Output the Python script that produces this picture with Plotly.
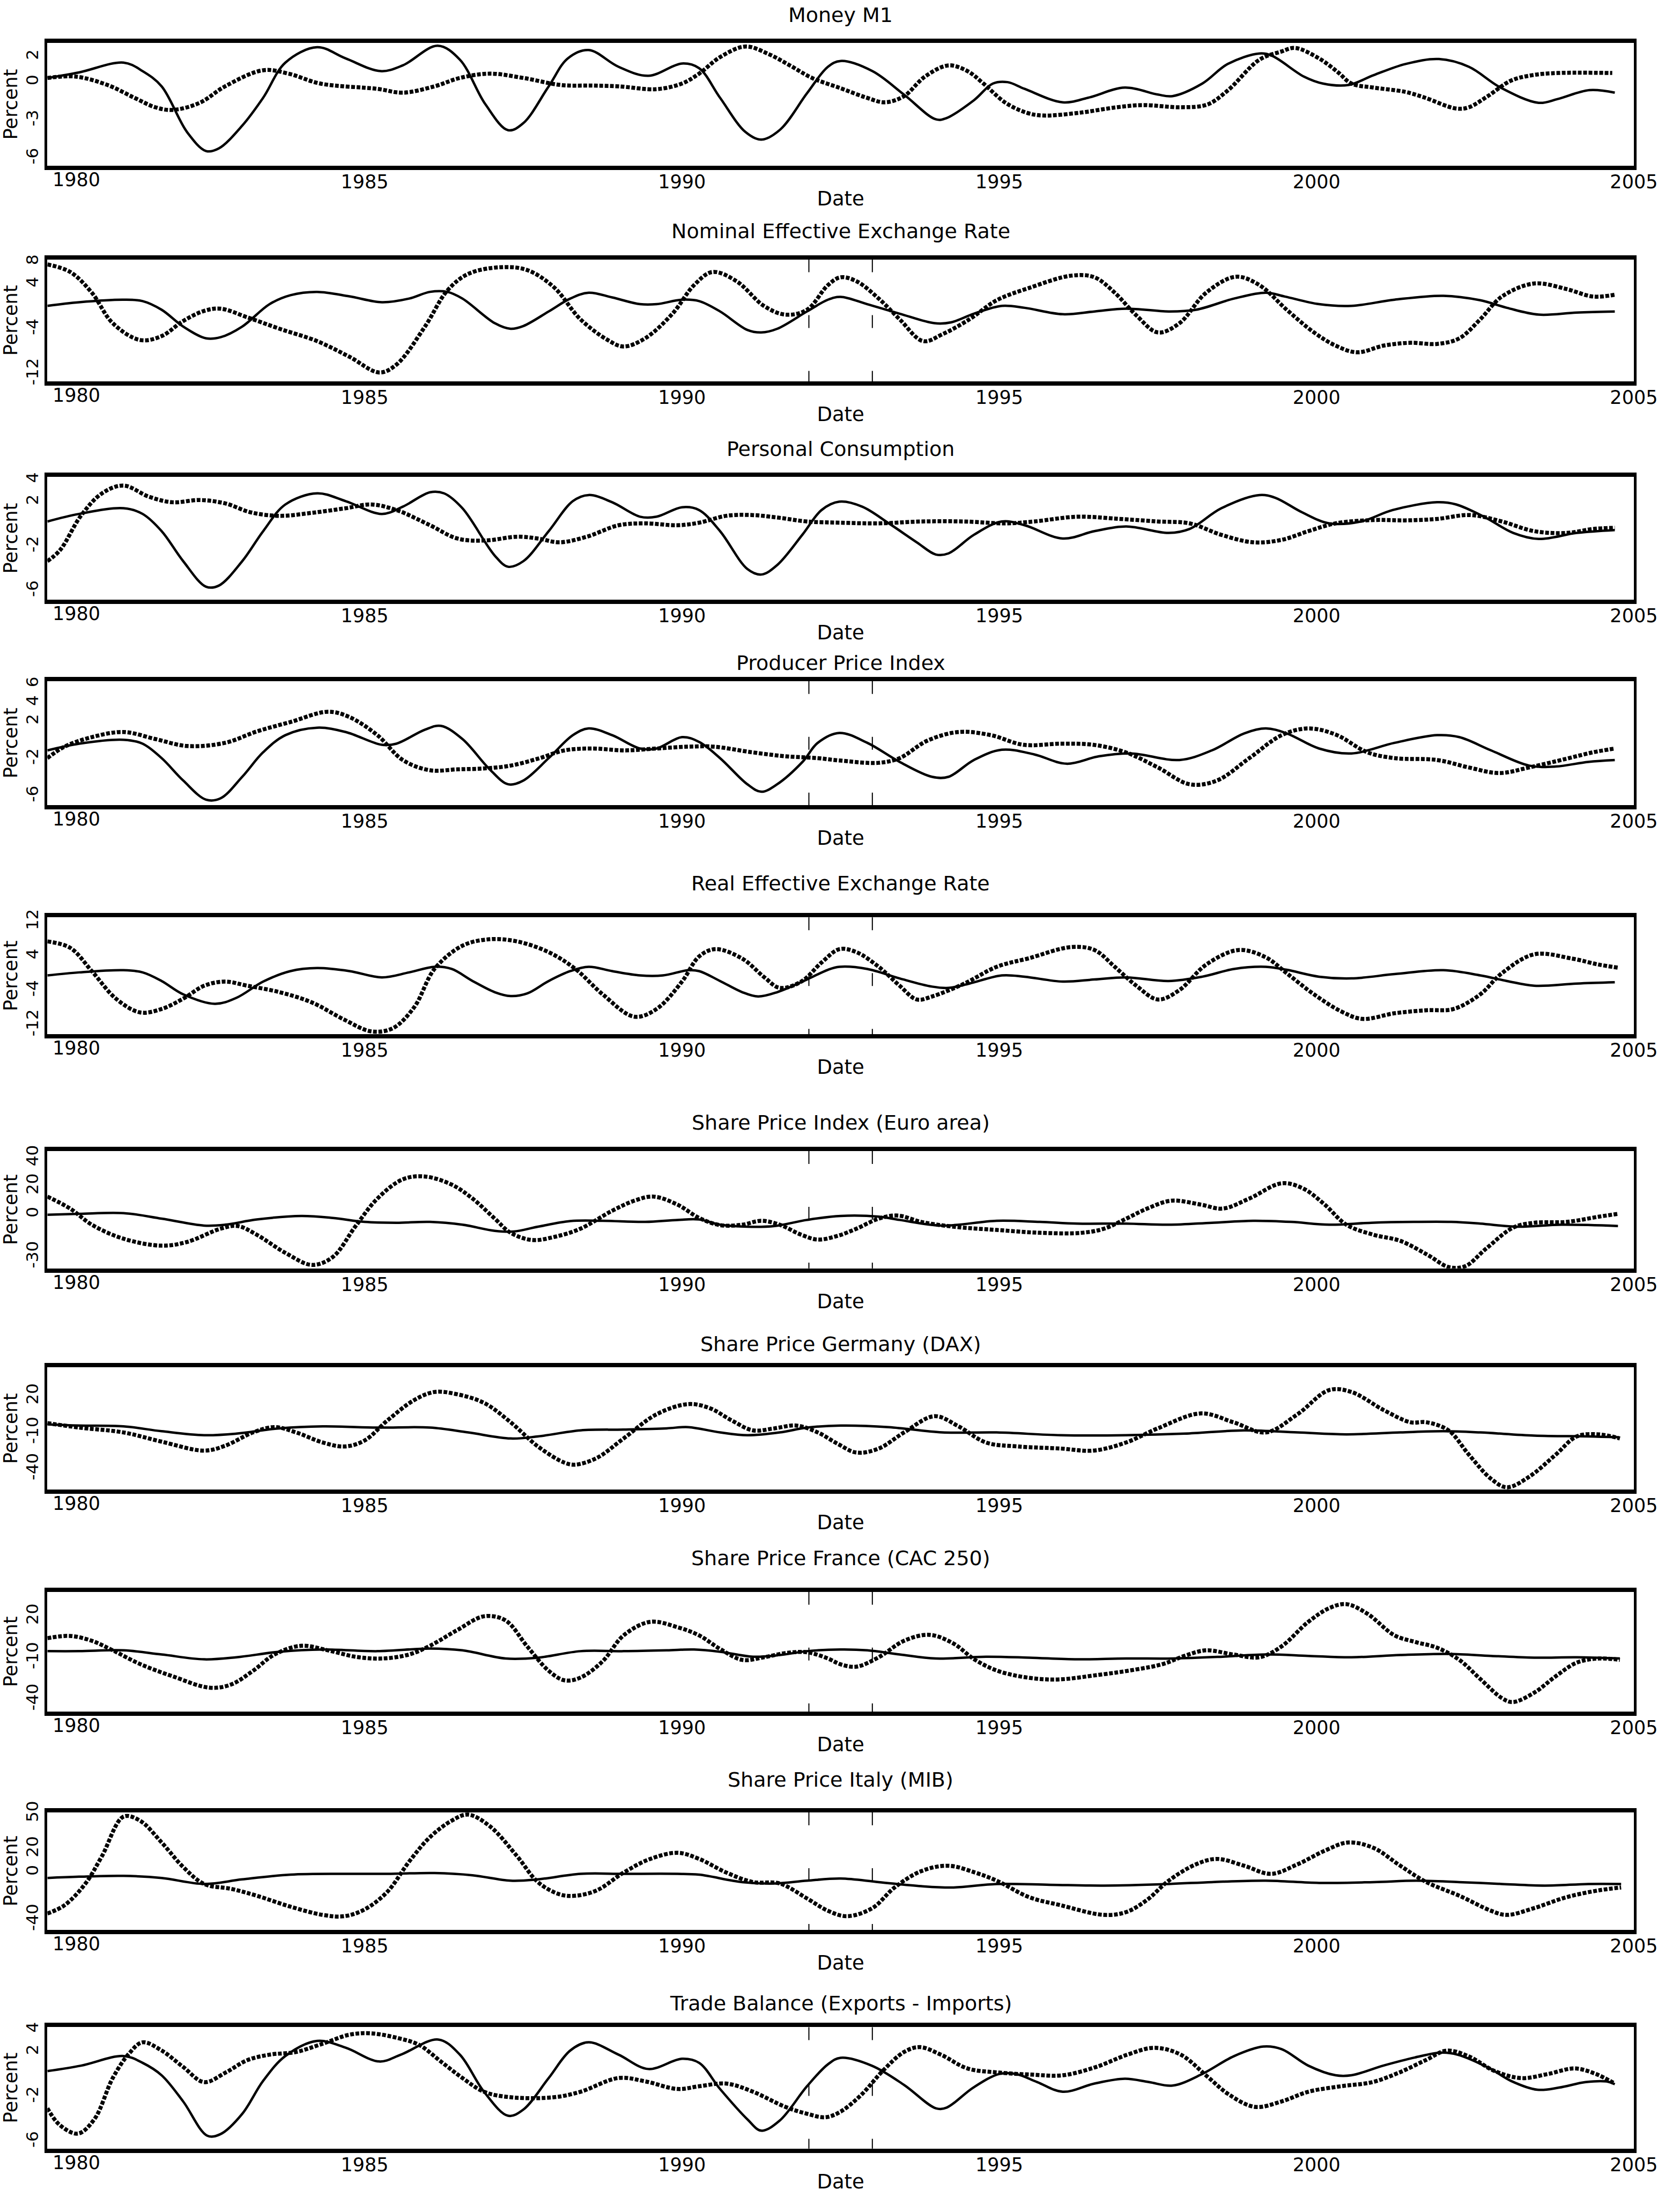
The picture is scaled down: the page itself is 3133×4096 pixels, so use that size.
import plotly.graph_objects as go

# ---------------------------------------------------------------------------
# Cyclical components in percent (decimal years).
# "ref" = reference cycle (solid line), "ser" = series cycle (dotted line)
# ---------------------------------------------------------------------------

money_ref_yr = [1980.0, 1980.5, 1981.2, 1981.5, 1981.8, 1982.2, 1982.5, 1982.7, 1983.07, 1983.4, 1983.75, 1984.25,
                1984.7, 1985.25, 1985.6, 1986.15, 1986.5, 1986.9, 1987.26, 1987.5, 1987.9, 1988.2, 1988.53, 1989.0,
                1989.47, 1990.0, 1990.27, 1990.6, 1991.0, 1991.25, 1991.55, 1991.97, 1992.3, 1992.5, 1993.0, 1993.5,
                1994.0, 1994.17, 1994.6, 1994.9, 1995.13, 1995.4, 1996.0, 1996.4, 1996.98, 1997.5, 1997.73, 1998.2,
                1998.6, 1999.1, 1999.3, 1999.8, 2000.1, 2000.5, 2000.9, 2001.4, 2001.93, 2002.4, 2002.9, 2003.5,
                2003.8, 2004.3, 2004.7]
money_ref = [0.36, 0.8, 1.57, 0.9, -0.3, -3.9, -5.4, -5.2, -3.4, -1.2, 1.57, 2.78,
             1.9, 0.9, 1.35, 2.9, 1.8, -1.7, -3.76, -3.2, -0.3, 1.9, 2.56, 1.24,
             0.53, 1.5, 1.13, -1.2, -3.9, -4.5, -3.7, -0.85, 1.24, 1.7, 0.9, -0.96,
             -2.9, -2.8, -1.4, -0.08, 0.03, -0.5, -1.56, -1.2, -0.4, -0.95, -1.07, -0.08,
             1.46, 2.29, 2.1, 0.47, -0.08, -0.2, 0.58, 1.46, 1.85, 1.24, -0.4, -1.6,
             -1.3, -0.6, -0.8]
money_ser_yr = [1980.0, 1980.44, 1980.95, 1981.37, 1981.7, 1981.97, 1982.4, 1982.8, 1983.4, 1983.8, 1984.3, 1985.2,
                1985.6, 1986.1, 1986.5, 1986.97, 1987.5, 1988.1, 1988.6, 1989.0, 1989.6, 1990.0, 1990.27, 1990.6,
                1991.0, 1991.37, 1991.7, 1992.05, 1992.5, 1992.9, 1993.2, 1993.5, 1993.83, 1994.2, 1994.5, 1994.75,
                1995.1, 1995.43, 1995.68, 1996.27, 1996.85, 1997.27, 1997.86, 1998.28, 1998.6, 1999.1, 1999.45,
                1999.66, 2000.04, 2000.34, 2000.55, 2000.9, 2001.4, 2001.7, 2002.2, 2002.4, 2002.7, 2003.06,
                2003.4, 2003.8, 2004.66]
money_ser = [0.36, 0.47, -0.2, -1.2, -1.95, -2.16, -1.6, -0.3, 0.97, 0.7, -0.08, -0.5,
             -0.8, -0.3, 0.36, 0.7, 0.36, -0.2, -0.24, -0.3, -0.52, -0.08, 0.7, 2.0,
             2.84, 2.23, 1.35, 0.36, -0.45, -1.18, -1.56, -1.07, 0.47, 1.35, 0.9, -0.08,
             -1.6, -2.38, -2.6, -2.38, -1.95, -1.78, -1.95, -1.73, -0.63, 1.8, 2.45,
             2.73, 1.9, 0.8, -0.08, -0.4, -0.74, -1.18, -2.05, -1.95, -1.07, 0.14,
             0.58, 0.75, 0.75]

neer_ref_yr = [1980.0, 1980.5, 1981.2, 1981.5, 1981.8, 1982.14, 1982.5, 1982.73, 1983.07, 1983.5, 1983.83, 1984.25,
               1984.76, 1985.27, 1985.7, 1986.03, 1986.3, 1986.54, 1987.05, 1987.3, 1987.5, 1987.9, 1988.24,
               1988.53, 1988.9, 1989.34, 1989.6, 1990.0, 1990.27, 1990.6, 1991.03, 1991.25, 1991.5, 1991.97,
               1992.3, 1992.5, 1992.92, 1993.43, 1993.98, 1994.24, 1994.6, 1995.04, 1995.4, 1996.0, 1996.5,
               1997.0, 1997.67, 1998.1, 1998.7, 1999.2, 1999.5, 2000.04, 2000.55, 2001.23, 2002.0, 2002.58,
               2003.0, 2003.5, 2004.1, 2004.7]
neer_ref = [0.2, 0.85, 1.3, 1.05, -0.5, -3.5, -5.6, -5.4, -3.5, 0.5, 2.1, 2.7,
            1.9, 0.85, 1.5, 2.7, 2.7, 1.5, -2.9, -3.9, -3.4, -0.8, 1.5,
            2.55, 1.7, 0.5, 0.5, 1.3, 1.05, -0.8, -4.1, -4.55, -3.9, -0.8,
            1.3, 1.8, 0.5, -1.2, -2.9, -2.75, -1.2, 0.2, -0.15, -1.3, -0.8,
            -0.3, -0.8, -0.5, 1.5, 2.55, 1.86, 0.5, 0.2, 1.3, 2.0, 1.2,
            -0.15, -1.37, -1.0, -0.8]
neer_ser_yr = [1980.0, 1980.36, 1980.7, 1981.03, 1981.46, 1981.8, 1982.14, 1982.47, 1982.73, 1983.15, 1983.66,
               1984.25, 1984.76, 1985.23, 1985.5, 1985.95, 1986.3, 1986.63, 1987.14, 1987.56, 1987.98, 1988.4,
               1988.83, 1989.08, 1989.42, 1989.85, 1990.19, 1990.48, 1990.86, 1991.29, 1991.63, 1991.97, 1992.3,
               1992.5, 1992.75, 1993.1, 1993.43, 1993.8, 1994.1, 1994.53, 1994.96, 1995.47, 1996.14, 1996.5,
               1996.82, 1997.16, 1997.5, 1997.84, 1998.26, 1998.73, 1999.1, 1999.53, 1999.96, 2000.3, 2000.64,
               2001.06, 2001.48, 2001.9, 2002.25, 2002.58, 2002.92, 2003.43, 2003.94, 2004.36, 2004.7]
neer_ser = [7.6, 6.25, 2.55, -2.9, -5.9, -5.2, -2.5, -0.7, -0.3, -1.85, -3.9,
            -6.1, -8.9, -11.7, -10.3, -3.5, 2.9, 5.9, 7.1, 6.6, 3.55, -2.2,
            -5.9, -7.06, -5.6, -1.2, 3.9, 6.25, 4.6, 0.2, -1.37, -0.5, 3.9,
            5.3, 4.6, 1.5, -2.2, -6.1, -4.9, -2.2, 1.2, 3.4, 5.6, 5.3,
            2.55, -1.5, -4.55, -2.9, 2.55, 5.4, 3.9, -0.5, -4.55, -6.9, -8.1,
            -6.9, -6.4, -6.6, -5.6, -2.2, 1.86, 4.2, 3.2, 1.86, 2.2]

cons_ref_yr = [1980.0, 1980.5, 1981.2, 1981.5, 1981.8, 1982.14, 1982.5, 1982.7, 1983.07, 1983.4, 1983.75, 1984.25,
               1984.7, 1985.27, 1985.6, 1986.03, 1986.25, 1986.54, 1987.05, 1987.26, 1987.5, 1987.9, 1988.28,
               1988.53, 1988.9, 1989.34, 1989.6, 1990.0, 1990.27, 1990.6, 1991.03, 1991.25, 1991.5, 1991.9,
               1992.2, 1992.48, 1992.84, 1993.26, 1993.7, 1994.0, 1994.2, 1994.6, 1995.04, 1995.4, 1996.0,
               1996.5, 1997.0, 1997.67, 1998.0, 1998.5, 1999.1, 1999.35, 1999.77, 2000.2, 2000.7, 2001.2,
               2001.9, 2002.2, 2002.67, 2003.1, 2003.5, 2004.1, 2004.7]
cons_ref = [0.27, 0.95, 1.46, 0.95, -0.6, -3.3, -5.6, -5.5, -3.3, -0.6, 1.8, 2.8,
            2.1, 0.95, 1.6, 2.9, 2.8, 1.46, -2.8, -3.8, -3.3, -0.6, 2.1,
            2.65, 2.0, 0.7, 0.7, 1.55, 1.3, -0.6, -4.0, -4.5, -3.65, -0.9,
            1.3, 2.05, 1.6, 0.1, -1.6, -2.7, -2.6, -0.93, 0.27, -0.07, -1.26,
            -0.6, -0.18, -0.76, -0.4, 1.46, 2.65, 2.4, 1.1, 0.1, 0.27, 1.3,
            2.0, 1.8, 0.6, -0.76, -1.3, -0.76, -0.5]
cons_ser_yr = [1980.0, 1980.2, 1980.53, 1980.86, 1981.2, 1981.6, 1981.97, 1982.4, 1982.8, 1983.2, 1983.66, 1984.17,
               1984.7, 1985.1, 1985.5, 1986.03, 1986.46, 1986.9, 1987.4, 1987.73, 1988.07, 1988.5, 1989.0,
               1989.42, 1989.93, 1990.27, 1990.7, 1991.1, 1991.54, 1991.97, 1992.5, 1993.1, 1993.77, 1994.45,
               1995.1, 1995.55, 1996.23, 1996.9, 1997.5, 1998.0, 1998.5, 1999.0, 1999.45, 1999.87, 2000.3,
               2000.9, 2001.4, 2001.9, 2002.42, 2002.92, 2003.43, 2003.94, 2004.36, 2004.7]
cons_ser = [-3.3, -2.3, 0.8, 2.8, 3.5, 2.5, 2.0, 2.2, 1.9, 1.1, 0.78, 1.05,
            1.46, 1.8, 1.3, -0.07, -1.26, -1.44, -1.1, -1.26, -1.6, -1.1, -0.07,
            0.1, -0.07, 0.16, 0.78, 0.85, 0.6, 0.27, 0.16, 0.1, 0.27, 0.27,
            0.1, 0.27, 0.7, 0.5, 0.27, 0.1, -0.93, -1.6, -1.38, -0.6, 0.1,
            0.4, 0.37, 0.5, 0.85, 0.27, -0.6, -0.76, -0.4, -0.3]

ppi_ref_yr = [1980.0, 1980.5, 1981.2, 1981.5, 1981.8, 1982.14, 1982.5, 1982.73, 1983.07, 1983.4, 1983.75, 1984.25,
              1984.7, 1985.27, 1985.5, 1985.95, 1986.2, 1986.54, 1986.97, 1987.26, 1987.5, 1987.9, 1988.28,
              1988.53, 1988.9, 1989.34, 1989.6, 1990.0, 1990.27, 1990.6, 1991.03, 1991.25, 1991.5, 1991.9,
              1992.14, 1992.48, 1992.92, 1993.43, 1993.94, 1994.2, 1994.6, 1995.04, 1995.55, 1996.06, 1996.57,
              1997.08, 1997.84, 1998.35, 1998.86, 1999.2, 1999.53, 2000.04, 2000.55, 2001.23, 2001.9, 2002.25,
              2002.75, 2003.35, 2003.77, 2004.28, 2004.7]
ppi_ref = [-1.07, -0.35, 0.07, -0.35, -1.9, -4.3, -6.35, -6.2, -3.9, -1.27, 0.56, 1.36,
           0.9, -0.47, -0.35, 1.15, 1.56, 0.15, -3.1, -4.7, -4.3, -1.9, 0.56,
           1.28, 0.56, -0.87, -0.87, 0.35, -0.17, -1.9, -4.7, -5.5, -4.7, -2.3,
           -0.26, 0.8, -0.26, -2.3, -3.9, -3.9, -2.1, -1.0, -1.5, -2.5, -1.7,
           -1.4, -2.1, -1.07, 0.75, 1.28, 0.75, -0.87, -1.4, -0.26, 0.56, 0.35,
           -1.07, -2.7, -2.8, -2.3, -2.1]
ppi_ser_yr = [1980.0, 1980.27, 1980.7, 1981.2, 1981.7, 1982.2, 1982.8, 1983.3, 1983.83, 1984.42, 1984.76, 1985.2,
              1985.6, 1986.03, 1986.46, 1986.9, 1987.3, 1987.73, 1988.15, 1988.58, 1989.1, 1989.6, 1990.1,
              1990.5, 1991.1, 1991.63, 1992.14, 1992.48, 1993.1, 1993.43, 1993.86, 1994.36, 1994.87, 1995.38,
              1995.97, 1996.48, 1996.99, 1997.5, 1998.0, 1998.43, 1998.94, 1999.45, 1999.87, 2000.3, 2000.8,
              2001.23, 2001.9, 2002.4, 2002.88, 2003.35, 2003.94, 2004.36, 2004.7]
ppi_ser = [-1.9, -0.67, 0.35, 0.9, 0.15, -0.6, -0.26, 0.96, 1.97, 3.07, 2.5, 0.56,
           -2.1, -3.2, -3.1, -3.0, -2.7, -1.96, -1.07, -0.87, -1.07, -0.87, -0.67,
           -0.67, -1.27, -1.7, -1.9, -2.15, -2.4, -1.9, -0.05, 0.9, 0.56, -0.47,
           -0.35, -0.47, -1.27, -2.9, -4.7, -4.3, -1.9, 0.56, 1.28, 0.63, -1.27,
           -1.9, -2.1, -2.9, -3.5, -2.9, -1.96, -1.27, -0.87]

reer_ref_yr = [1980.0, 1980.5, 1981.2, 1981.5, 1981.8, 1982.14, 1982.64, 1982.98, 1983.4, 1983.83, 1984.25, 1984.76,
               1985.27, 1985.7, 1986.1, 1986.37, 1986.7, 1987.05, 1987.3, 1987.56, 1987.9, 1988.24, 1988.53,
               1988.9, 1989.34, 1989.7, 1990.1, 1990.27, 1990.6, 1990.95, 1991.2, 1991.5, 1991.97, 1992.3,
               1992.48, 1992.92, 1993.43, 1993.94, 1994.2, 1994.53, 1995.04, 1995.4, 1996.0, 1996.5, 1997.0,
               1997.67, 1998.2, 1998.7, 1999.2, 1999.53, 2000.04, 2000.55, 2001.23, 2002.0, 2002.58, 2003.0,
               2003.43, 2004.1, 2004.7]
reer_ref = [-0.4, 0.3, 0.8, 0.3, -1.7, -4.8, -7.0, -5.6, -1.84, 0.6, 1.3, 0.6,
            -0.86, 0.3, 1.6, 1.1, -1.7, -4.3, -5.2, -4.6, -1.7, 0.6, 1.6,
            0.6, -0.4, -0.4, 0.8, 0.6, -1.7, -4.3, -5.3, -4.3, -1.35, 0.9,
            1.6, 1.1, -1.1, -3.0, -3.3, -2.3, -0.4, -0.7, -1.84, -1.35, -0.86,
            -1.7, -0.7, 1.1, 1.6, 0.9, -0.7, -1.1, -0.1, 0.8, -0.4, -1.7,
            -2.8, -2.3, -2.0]
reer_ser_yr = [1980.0, 1980.36, 1980.7, 1981.08, 1981.46, 1981.8, 1982.14, 1982.47, 1982.8, 1983.15, 1983.66,
               1984.17, 1984.68, 1985.1, 1985.44, 1985.78, 1986.1, 1986.54, 1986.97, 1987.4, 1987.9, 1988.32,
               1988.75, 1989.25, 1989.6, 1990.0, 1990.27, 1990.53, 1990.95, 1991.3, 1991.54, 1991.88, 1992.2,
               1992.48, 1992.75, 1993.1, 1993.43, 1993.7, 1993.94, 1994.45, 1994.96, 1995.47, 1996.14, 1996.5,
               1996.82, 1997.16, 1997.5, 1997.84, 1998.26, 1998.77, 1999.2, 1999.53, 1999.96, 2000.38, 2000.72,
               2001.23, 2001.73, 2002.16, 2002.58, 2002.92, 2003.43, 2004.03, 2004.45, 2004.75]
reer_ser = [7.5, 6.0, 0.6, -5.8, -9.0, -8.2, -5.8, -2.8, -1.84, -2.8, -4.3,
            -6.7, -10.7, -13.4, -12.7, -7.8, 1.1, 6.5, 8.0, 7.5, 5.0, 1.1,
            -4.8, -10.0, -8.2, -1.84, 4.0, 5.7, 3.5, -0.86, -3.3, -1.84, 2.6,
            5.7, 5.0, 1.6, -2.8, -6.0, -5.3, -2.3, 1.6, 3.6, 6.2, 5.5,
            1.6, -2.8, -6.0, -3.8, 2.1, 5.5, 3.8, 0.1, -4.8, -8.7, -10.5,
            -9.2, -8.5, -8.2, -4.8, 0.1, 4.5, 3.5, 2.1, 1.4]

euro_ref_yr = [1980.0, 1980.5, 1981.2, 1981.8, 1982.47, 1982.8, 1983.3, 1984.0, 1984.5, 1985.0, 1985.5, 1986.03,
               1986.54, 1987.05, 1987.35, 1987.73, 1988.24, 1988.75, 1989.42, 1989.93, 1990.27, 1990.6, 1991.03,
               1991.46, 1991.97, 1992.5, 1993.1, 1993.43, 1994.1, 1994.96, 1995.64, 1996.23, 1997.0, 1997.67,
               1998.35, 1999.0, 1999.6, 2000.2, 2000.86, 2001.53, 2002.12, 2002.58, 2003.16, 2003.86, 2004.75]
euro_ref = [0.0, 0.6, 1.1, -2.8, -7.7, -7.1, -3.4, -0.9, -2.3, -5.1, -5.7, -5.1,
            -7.1, -11.4, -11.9, -8.5, -4.5, -4.3, -5.1, -3.7, -3.4, -7.1, -8.5,
            -8.0, -3.7, -0.9, -1.4, -3.7, -7.7, -4.3, -5.1, -6.3, -6.3, -7.1,
            -5.7, -4.3, -5.1, -7.1, -5.7, -5.1, -5.1, -6.3, -8.5, -7.1, -8.0]
euro_ser_yr = [1980.0, 1980.36, 1980.7, 1981.2, 1981.8, 1982.2, 1982.73, 1983.0, 1983.3, 1983.75, 1984.17, 1984.5,
               1984.85, 1985.2, 1985.6, 1985.95, 1986.37, 1986.7, 1987.05, 1987.3, 1987.64, 1988.0, 1988.4,
               1988.9, 1989.25, 1989.55, 1989.93, 1990.27, 1990.6, 1990.95, 1991.25, 1991.54, 1991.88, 1992.14,
               1992.45, 1992.75, 1993.1, 1993.4, 1993.77, 1994.28, 1994.96, 1995.64, 1996.3, 1996.65, 1997.0,
               1997.33, 1997.71, 1998.18, 1998.52, 1998.94, 1999.45, 1999.79, 2000.13, 2000.47, 2000.9, 2001.32,
               2001.75, 2002.08, 2002.34, 2002.67, 2003.1, 2003.43, 2003.94, 2004.45, 2004.75]
euro_ser = [12.8, 4.3, -7.1, -17.0, -21.9, -19.3, -9.9, -8.0, -14.2, -27.0, -35.5, -29.8,
            -8.5, 11.4, 25.0, 27.0, 21.3, 11.4, -2.8, -12.8, -17.9, -15.6, -9.9,
            2.8, 9.9, 12.8, 7.1, -2.3, -7.4, -7.1, -4.3, -7.1, -14.2, -17.6,
            -15.0, -9.9, -2.8, -0.6, -5.1, -8.5, -10.8, -12.8, -12.8, -9.9, -2.8,
            4.3, 9.9, 7.1, 4.3, 11.4, 22.2, 18.5, 7.1, -7.1, -14.2, -18.5,
            -28.4, -37.0, -36.5, -24.1, -9.1, -5.7, -5.1, -1.4, 0.6]

dax_ref_yr = [1980.0, 1980.5, 1981.2, 1981.8, 1982.47, 1982.98, 1983.66, 1984.34, 1985.2, 1986.03, 1986.63, 1987.3,
              1987.73, 1988.4, 1989.08, 1989.76, 1990.1, 1990.6, 1991.03, 1991.54, 1991.97, 1992.5, 1993.26,
              1994.1, 1994.96, 1995.97, 1997.0, 1997.92, 1998.86, 1999.7, 2000.47, 2001.32, 2002.0, 2002.58,
              2003.43, 2004.28, 2004.75]
dax_ref = [-3.0, -4.0, -4.7, -8.7, -12.0, -10.7, -6.3, -4.7, -5.7, -5.7, -9.7, -14.7,
           -13.0, -8.0, -7.3, -6.3, -5.3, -9.7, -12.0, -9.7, -5.7, -4.0, -5.3,
           -9.7, -9.7, -12.0, -12.0, -10.7, -8.0, -9.7, -11.3, -9.7, -8.7, -9.7,
           -12.3, -13.0, -13.7]
dax_ser_yr = [1980.0, 1980.5, 1981.2, 1981.8, 1982.47, 1982.8, 1983.24, 1983.58, 1983.92, 1984.34, 1984.68, 1985.0,
              1985.36, 1985.78, 1986.1, 1986.44, 1986.88, 1987.3, 1987.73, 1988.15, 1988.32, 1988.66, 1989.08,
              1989.6, 1990.1, 1990.44, 1990.78, 1991.12, 1991.46, 1991.8, 1992.14, 1992.45, 1992.75, 1993.1,
              1993.5, 1993.98, 1994.36, 1994.79, 1995.3, 1995.97, 1996.48, 1997.0, 1997.5, 1998.18, 1998.69,
              1999.2, 1999.7, 2000.2, 2000.55, 2001.06, 2001.48, 2001.73, 2002.08, 2002.4, 2002.75, 2003.0,
              2003.35, 2003.77, 2004.1, 2004.45, 2004.78]
dax_ser = [-2.0, -5.7, -9.7, -17.3, -24.7, -20.7, -9.7, -5.3, -9.7, -18.0, -21.3, -16.3,
           0.3, 17.0, 23.7, 22.0, 14.7, -1.3, -21.3, -34.7, -36.3, -30.7, -14.7,
           5.3, 13.7, 10.3, 0.3, -8.0, -6.3, -4.0, -9.7, -19.0, -26.3, -23.0,
           -9.7, 3.7, -4.7, -18.0, -21.3, -23.0, -24.7, -18.0, -6.3, 6.0, -1.3,
           -9.7, 5.3, 25.3, 23.7, 8.7, -1.3, -1.3, -8.0, -28.0, -48.0, -55.0,
           -46.3, -28.0, -13.0, -11.3, -14.7]

cac_ref_yr = [1980.0, 1980.5, 1981.2, 1981.8, 1982.47, 1982.98, 1983.66, 1984.34, 1985.2, 1986.03, 1986.54, 1987.22,
              1987.73, 1988.4, 1989.08, 1989.76, 1990.19, 1990.6, 1991.12, 1991.54, 1991.97, 1992.5, 1992.92,
              1993.43, 1994.0, 1994.79, 1995.47, 1996.23, 1997.0, 1997.75, 1998.52, 1999.2, 1999.87, 2000.55,
              2001.32, 2002.08, 2002.75, 2003.43, 2004.1, 2004.78]
cac_ref = [-5.0, -5.0, -4.4, -7.4, -10.9, -9.4, -5.4, -3.8, -5.0, -3.1, -4.4, -10.3,
           -9.7, -5.0, -5.0, -4.4, -3.8, -5.4, -9.0, -7.8, -5.0, -3.8, -4.4,
           -7.4, -10.3, -9.0, -9.7, -10.9, -10.3, -10.3, -9.0, -7.4, -8.4, -9.4,
           -7.8, -7.0, -8.4, -9.7, -9.4, -10.3]
cac_ser_yr = [1980.0, 1980.36, 1980.7, 1981.03, 1981.46, 1981.97, 1982.56, 1982.9, 1983.24, 1983.58, 1984.0, 1984.42,
              1984.85, 1985.27, 1985.7, 1986.03, 1986.46, 1986.88, 1987.22, 1987.56, 1987.9, 1988.15, 1988.4,
              1988.75, 1989.08, 1989.5, 1989.93, 1990.27, 1990.6, 1990.95, 1991.29, 1991.63, 1991.97, 1992.3,
              1992.5, 1992.75, 1993.1, 1993.5, 1993.9, 1994.28, 1994.62, 1995.04, 1995.8, 1996.57, 1997.16,
              1997.58, 1997.92, 1998.26, 1998.69, 1999.1, 1999.45, 1999.87, 2000.2, 2000.47, 2000.8, 2001.23,
              2001.57, 2001.9, 2002.25, 2002.58, 2002.92, 2003.09, 2003.43, 2003.77, 2004.1, 2004.45, 2004.78]
cac_ser = [4.4, 6.0, 2.5, -4.4, -14.3, -23.1, -31.4, -29.0, -19.2, -7.4, -1.1, -4.4,
           -9.0, -10.3, -7.4, -1.1, 10.3, 20.2, 17.2, -1.5, -19.2, -26.1, -24.1,
           -12.3, 6.4, 16.2, 12.3, 6.4, -3.4, -11.3, -9.4, -6.4, -5.8, -10.3,
           -14.5, -16.2, -9.4, 2.5, 6.8, 0.5, -11.3, -20.2, -25.5, -22.1, -18.2,
           -14.3, -8.4, -4.4, -7.4, -9.4, -1.5, 16.2, 26.1, 29.0, 22.1, 6.4,
           1.5, -2.5, -11.3, -25.1, -38.9, -41.8, -35.0, -23.1, -13.3, -10.3, -11.3]

mib_ref_yr = [1980.0, 1980.5, 1981.2, 1981.8, 1982.47, 1983.07, 1983.83, 1984.68, 1985.36, 1986.1, 1986.7, 1987.3,
              1987.73, 1988.4, 1989.08, 1989.93, 1990.27, 1990.95, 1991.46, 1991.97, 1992.5, 1993.1, 1993.77,
              1994.28, 1994.96, 1995.8, 1996.65, 1997.67, 1998.35, 1999.2, 2000.04, 2000.9, 2001.57, 2002.25,
              2002.92, 2003.6, 2004.28, 2004.8]
mib_ref = [-4.4, -3.3, -2.6, -4.4, -9.5, -5.6, -1.6, -0.9, -0.9, -0.2, -2.1, -6.7,
           -5.6, -0.9, -0.9, -0.9, -1.6, -7.9, -9.1, -6.7, -4.9, -7.9, -11.4,
           -12.5, -9.5, -10.2, -10.9, -9.5, -7.9, -6.7, -8.6, -7.9, -6.7, -7.9,
           -9.5, -10.9, -9.5, -9.5]
mib_ser_yr = [1980.0, 1980.27, 1980.6, 1980.86, 1981.2, 1981.46, 1981.8, 1982.14, 1982.47, 1982.9, 1983.3, 1983.83,
              1984.34, 1984.68, 1985.0, 1985.36, 1985.7, 1986.03, 1986.37, 1986.63, 1986.97, 1987.4, 1987.73,
              1988.07, 1988.32, 1988.66, 1989.08, 1989.5, 1989.93, 1990.27, 1990.7, 1991.12, 1991.54, 1991.97,
              1992.3, 1992.6, 1993.0, 1993.35, 1993.77, 1994.2, 1994.62, 1994.96, 1995.47, 1995.97, 1996.65,
              1997.0, 1997.33, 1997.67, 1998.1, 1998.43, 1998.86, 1999.28, 1999.7, 2000.13, 2000.5, 2000.9,
              2001.32, 2001.73, 2002.25, 2002.75, 2003.0, 2003.43, 2003.94, 2004.45, 2004.8]
mib_ser = [-34.6, -27.6, -9.1, 14.2, 47.8, 44.3, 25.8, 4.9, -9.5, -13.7, -19.5, -28.8,
           -35.8, -36.9, -31.1, -16.0, 9.5, 30.4, 44.3, 49.5, 39.7, 14.2, -7.9,
           -18.3, -19.5, -14.9, 0.2, 11.8, 17.0, 11.8, 0.2, -7.9, -9.1, -21.8,
           -32.3, -36.9, -30.0, -12.5, 1.4, 6.0, 0.2, -6.7, -20.7, -27.6, -35.8,
           -33.4, -23.0, -6.7, 7.2, 11.8, 6.0, -0.9, 7.2, 18.8, 25.8, 21.1,
           6.0, -7.9, -19.5, -32.3, -35.8, -30.0, -20.7, -14.9, -12.5]

trade_ref_yr = [1980.0, 1980.53, 1981.2, 1981.5, 1981.8, 1982.14, 1982.52, 1982.73, 1983.07, 1983.4, 1983.75,
                1984.25, 1984.7, 1985.23, 1985.57, 1986.16, 1986.5, 1986.88, 1987.26, 1987.5, 1987.9, 1988.24,
                1988.53, 1989.0, 1989.47, 1990.0, 1990.27, 1990.6, 1991.03, 1991.25, 1991.54, 1991.97, 1992.3,
                1992.5, 1992.99, 1993.5, 1994.0, 1994.17, 1994.59, 1995.0, 1995.26, 1995.6, 1996.0, 1996.5,
                1996.98, 1997.36, 1997.73, 1998.2, 1998.7, 1999.16, 1999.45, 1999.87, 2000.3, 2000.55, 2001.05,
                2001.55, 2001.97, 2002.22, 2002.73, 2003.06, 2003.48, 2003.82, 2004.24, 2004.57, 2004.7]
trade_ref = [0.31, 0.8, 1.66, 1.05, -0.06, -2.4, -5.45, -5.3, -3.5, -0.55, 1.66,
             3.0, 2.4, 1.17, 1.78, 3.13, 1.78, -1.53, -3.67, -3.12, -0.3, 2.15,
             2.88, 1.78, 0.5, 1.41, 1.05, -1.28, -3.98, -5.0, -4.1, -1.04, 0.92,
             1.5, 0.8, -0.92, -3.0, -2.94, -1.16, 0.06, 0.06, -0.67, -1.53, -0.8,
             -0.37, -0.67, -0.98, 0.06, 1.65, 2.5, 2.27, 0.8, -0.06, -0.06, 0.8,
             1.53, 1.96, 1.78, 0.55, -0.55, -1.35, -1.16, -0.67, -0.61, -0.86]
trade_ser_yr = [1980.0, 1980.19, 1980.48, 1980.74, 1981.03, 1981.29, 1981.5, 1981.8, 1982.14, 1982.47, 1982.81,
                1983.15, 1983.5, 1983.92, 1984.34, 1984.76, 1985.1, 1985.53, 1985.86, 1986.2, 1986.54, 1986.88,
                1987.3, 1987.98, 1988.4, 1989.0, 1989.42, 1989.93, 1990.27, 1990.7, 1991.12, 1991.63, 1991.97,
                1992.26, 1992.5, 1992.83, 1993.16, 1993.5, 1993.75, 1994.08, 1994.5, 1995.0, 1995.51, 1996.0,
                1996.52, 1997.02, 1997.44, 1997.86, 1998.28, 1998.62, 1999.03, 1999.45, 1999.87, 2000.38,
                2000.88, 2001.3, 2001.72, 2002.05, 2002.39, 2002.81, 2003.23, 2003.65, 2004.07, 2004.4, 2004.7]
trade_ser = [-3.0, -4.47, -5.26, -3.98, -0.3, 1.9, 2.88, 2.15, 0.68, -0.67, 0.19,
             1.29, 1.78, 2.02, 2.76, 3.56, 3.68, 3.25, 2.64, 1.17, -0.3, -1.53,
             -2.02, -2.02, -1.53, -0.3, -0.6, -1.28, -1.04, -0.8, -1.53, -2.88, -3.49,
             -3.8, -3.3, -1.78, 0.31, 2.02, 2.45, 1.78, 0.55, 0.18, 0.0, -0.06,
             0.67, 1.78, 2.39, 1.78, -0.18, -1.78, -2.88, -2.39, -1.53, -1.04,
             -0.67, 0.18, 1.29, 2.14, 1.65, 0.31, -0.31, 0.06, 0.55, 0.06, -0.8]

panel_titles = ["Money M1", "Nominal Effective Exchange Rate", "Personal Consumption", "Producer Price Index",
                "Real Effective Exchange Rate", "Share Price Index (Euro area)", "Share Price Germany (DAX)",
                "Share Price France (CAC 250)", "Share Price Italy (MIB)", "Trade Balance (Exports - Imports)"]
year_ticks = [1980, 1985, 1990, 1995, 2000, 2005]
marker_years = [1992, 1993]

# ---------------------------------------------------------------------------
# Layout of the ten stacked panels (pixels on a 3133 x 4096 page)
# ---------------------------------------------------------------------------
W, H = 3133, 4096
X_LEFT, X_RIGHT = 88.4, 3046.9
FONT = "DejaVu Sans"
TITLE_SIZE, TICK_SIZE, DATE_SIZE, YLAB_SIZE, YTICK_SIZE = 38, 35, 37, 35, 31

panels = [
    dict(ref=(money_ref_yr, money_ref), ser=(money_ser_yr, money_ser), yrange=[-6.56, 3.11],
         ticks=[2, 0, -3, -6], top=80.3, bottom=309.0, title_y=28, marks=False),
    dict(ref=(neer_ref_yr, neer_ref), ser=(neer_ser_yr, neer_ser), yrange=[-13.3, 8.5],
         ticks=[8, 4, -4, -12], top=483.6, bottom=711.1, title_y=431, marks=True),
    dict(ref=(cons_ref_yr, cons_ref), ser=(cons_ser_yr, cons_ser), yrange=[-6.78, 4.28],
         ticks=[4, 2, -2, -6], top=889.1, bottom=1118.4, title_y=837, marks=False),
    dict(ref=(ppi_ref_yr, ppi_ref), ser=(ppi_ser_yr, ppi_ser), yrange=[-6.95, 6.36],
         ticks=[6, 4, 2, -2, -6], top=1269.7, bottom=1501.3, title_y=1236, marks=True),
    dict(ref=(reer_ref_yr, reer_ref), ser=(reer_ser_yr, reer_ser), yrange=[-14.1, 13.1],
         ticks=[12, 4, -4, -12], top=1710.2, bottom=1928.4, title_y=1647, marks=True),
    dict(ref=(euro_ref_yr, euro_ref), ser=(euro_ser_yr, euro_ser), yrange=[-38, 45],
         ticks=[40, 20, 0, -30], top=2146.0, bottom=2364.8, title_y=2093, marks=True),
    dict(ref=(dax_ref_yr, dax_ref), ser=(dax_ser_yr, dax_ser), yrange=[-57, 44],
         ticks=[20, -10, -40], top=2549.3, bottom=2777.4, title_y=2506, marks=False),
    dict(ref=(cac_ref_yr, cac_ref), ser=(cac_ser_yr, cac_ser), yrange=[-48.7, 37.9],
         ticks=[20, -10, -40], top=2967.7, bottom=3191.1, title_y=2905, marks=True),
    dict(ref=(mib_ref_yr, mib_ref), ser=(mib_ser_yr, mib_ser), yrange=[-48.5, 51.3],
         ticks=[50, 20, 0, -40], top=3379.1, bottom=3597.9, title_y=3318, marks=True),
    dict(ref=(trade_ref_yr, trade_ref), ser=(trade_ser_yr, trade_ser), yrange=[-6.6, 4.23],
         ticks=[4, 2, -2, -6], top=3779.4, bottom=4005.8, title_y=3735, marks=True),
]

fig = go.Figure()
layout_axes = {}
annotations = []
shapes = []

for i, (p, title) in enumerate(zip(panels, panel_titles), start=1):
    sfx = "" if i == 1 else str(i)
    xa, ya = "x" + sfx, "y" + sfx

    # series cycle: heavy dotted line
    fig.add_trace(go.Scatter(
        x=p["ser"][0], y=p["ser"][1], mode="lines", xaxis=xa, yaxis=ya,
        line=dict(color="black", width=7.5, dash="7px,3px", shape="spline", smoothing=1.0),
        showlegend=False, hoverinfo="skip"))
    # reference cycle: thin solid line
    fig.add_trace(go.Scatter(
        x=p["ref"][0], y=p["ref"][1], mode="lines", xaxis=xa, yaxis=ya,
        line=dict(color="black", width=4.5, shape="spline", smoothing=1.0),
        showlegend=False, hoverinfo="skip"))

    y0 = 1 - p["bottom"] / H
    y1 = 1 - p["top"] / H
    layout_axes["xaxis" + sfx] = dict(
        domain=[X_LEFT / W, X_RIGHT / W], range=[1980, 2005], anchor=ya,
        showline=True, mirror=True, linecolor="black", linewidth=8,
        ticks="", showgrid=False, zeroline=False,
        tickvals=year_ticks[1:], ticktext=[str(t) for t in year_ticks[1:]],
        tickfont=dict(family=FONT, size=TICK_SIZE, color="black"), ticklabelstandoff=-8,
        title=dict(text="Date", font=dict(family=FONT, size=DATE_SIZE, color="black"), standoff=2),
        automargin=False)
    layout_axes["yaxis" + sfx] = dict(
        domain=[y0, y1], range=p["yrange"], anchor=xa,
        showline=True, mirror=True, linecolor="black", linewidth=5,
        ticks="", showgrid=False, zeroline=False,
        tickvals=p["ticks"], ticktext=[str(t) for t in p["ticks"]], tickangle=-90,
        tickfont=dict(family=FONT, size=YTICK_SIZE, color="black"),
        title=dict(text="Percent", font=dict(family=FONT, size=YLAB_SIZE, color="black"), standoff=0),
        automargin=False)

    # panel title
    annotations.append(dict(
        text=title, x=(X_LEFT + X_RIGHT) / 2 / W, y=1 - p["title_y"] / H, xref="paper", yref="paper",
        xanchor="center", yanchor="middle", showarrow=False,
        font=dict(family=FONT, size=TITLE_SIZE, color="black")))
    # first year label sits just inside the left edge
    annotations.append(dict(
        text=str(year_ticks[0]), x=year_ticks[0], y=y0, xref=xa, yref="paper",
        xanchor="left", yanchor="top", xshift=8, yshift=-4, showarrow=False,
        font=dict(family=FONT, size=TICK_SIZE, color="black")))

    if p["marks"]:
        for yr in marker_years:
            shapes.append(dict(
                type="line", xref=xa, yref=ya + " domain", x0=yr, x1=yr, y0=1, y1=0,
                line=dict(color="black", width=2, dash="24px,80px")))

fig.update_layout(
    width=W, height=H,
    margin=dict(l=0, r=0, t=0, b=0),
    paper_bgcolor="white", plot_bgcolor="white",
    font=dict(family=FONT, color="black"),
    annotations=annotations, shapes=shapes,
    **layout_axes)

fig.write_html("out.html")
